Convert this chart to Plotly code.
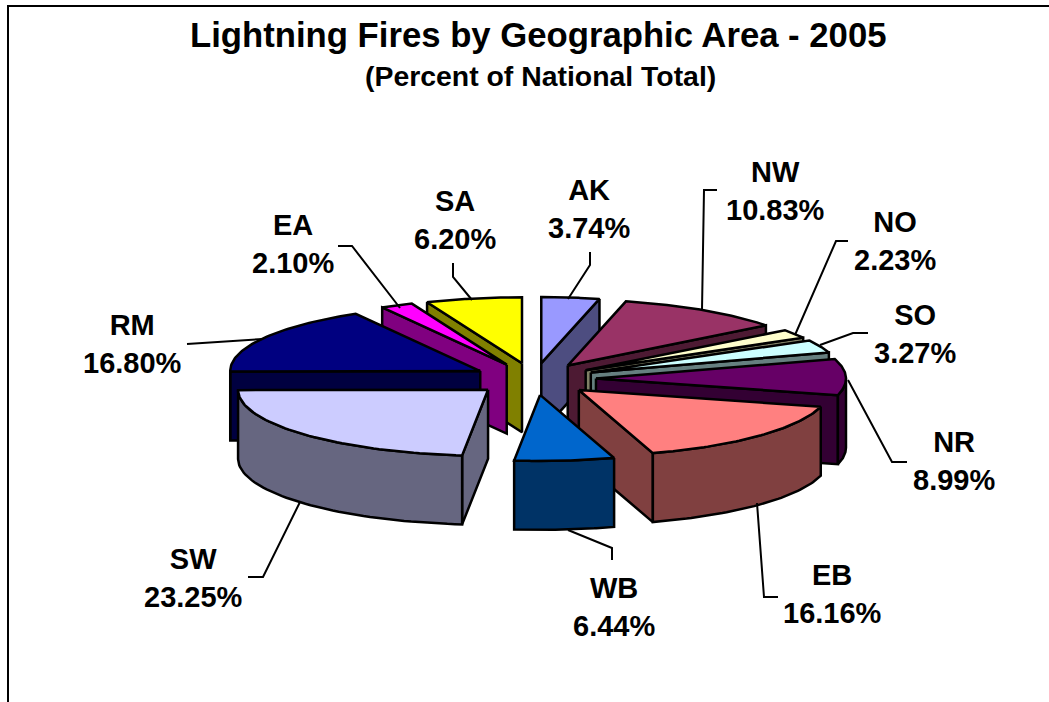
import numpy as np
import plotly.graph_objects as go

# ---- data ----
areas = ["AK", "NW", "NO", "SO", "NR", "EB", "WB", "SW", "RM", "EA", "SA"]
percents = [3.74, 10.83, 2.23, 3.27, 8.99, 16.16, 6.44, 23.25, 16.80, 2.10, 6.20]
top_colors = ["#9999FF", "#993366", "#FFFFCC", "#CCFFFF", "#660066", "#FF8080",
              "#0066CC", "#CCCCFF", "#000080", "#FF00FF", "#FFFF00"]
side_colors = ["#4D4D80", "#4D1A33", "#808066", "#668080", "#330033", "#804040",
               "#003366", "#666680", "#000040", "#800080", "#808000"]

title_text = "Lightning Fires by Geographic Area - 2005"
subtitle_text = "(Percent of National Total)"

# ---- pseudo-3D projection of the pie ----
CX, CY = 534, 379
RX, RY = 250, 66
DEPTH = 69
EX, EY = 62, 16
W, H = 1049, 702

label_pos = {"AK": (589, 209), "NW": (775, 191), "NO": (895, 241), "SO": (915, 334),
             "NR": (954, 461), "EB": (832, 594), "WB": (614, 607), "SW": (193, 578),
             "RM": (132, 344), "EA": (293, 244), "SA": (455, 220)}
leaders = [
    [(590, 252), (590, 265), (568, 299)],
    [(717, 190), (704, 190), (702, 310)],
    [(848, 241), (836, 241), (795, 335)],
    [(868, 333), (853, 333), (820, 345)],
    [(907, 462), (892, 462), (848, 380)],
    [(778, 597), (764, 597), (757, 503)],
    [(612, 560), (612, 548), (568, 530)],
    [(248, 577), (263, 577), (300, 502)],
    [(187, 344), (263, 339)],
    [(338, 246), (352, 246), (400, 308)],
    [(453, 263), (453, 277), (472, 300)],
]


def rim(ax, ay, theta, dy=0.0):
    return ax + RX * np.sin(theta), ay - RY * np.cos(theta) + dy


def poly(fig, xs, ys, color):
    fig.add_trace(go.Scatter(x=list(xs) + [xs[0]], y=list(ys) + [ys[0]], mode="lines",
                             fill="toself", fillcolor=color,
                             line=dict(color="black", width=2.5), hoverinfo="skip",
                             showlegend=False))


fig = go.Figure()
total = sum(percents)
edges = np.cumsum([0] + percents) / total * 2 * np.pi
mids = (edges[:-1] + edges[1:]) / 2

for i in sorted(range(len(areas)), key=lambda k: -np.cos(mids[k])):
    t1, t2 = edges[i], edges[i + 1]
    ax = CX + EX * np.sin(mids[i])
    ay = CY - EY * np.cos(mids[i])
    mx, my = rim(ax, ay, mids[i])
    # radial cut faces that turn toward the viewer
    for t in (t1, t2):
        px, py = rim(ax, ay, t)
        nx, ny = -(py - ay), px - ax
        if nx * (mx - ax) + ny * (my - ay) > 0:
            nx, ny = -nx, -ny
        if ny > 1e-6:
            poly(fig, [ax, px, px, ax], [ay, py, py + DEPTH, ay + DEPTH], side_colors[i])
    # outer rim wall on the front half
    lo, hi = max(t1, np.pi / 2), min(t2, 1.5 * np.pi)
    if hi > lo:
        th = np.linspace(lo, hi, 50)
        x, y = rim(ax, ay, th)
        poly(fig, list(x) + list(x[::-1]), list(y) + list((y + DEPTH)[::-1]), side_colors[i])
    # top face
    th = np.linspace(t1, t2, 60)
    x, y = rim(ax, ay, th)
    poly(fig, [ax] + list(x), [ay] + list(y), top_colors[i])

shapes = [dict(type="path", path="M 8 702 L 8 6 L 1049 6", xref="x", yref="y",
               line=dict(color="black", width=2))]
for pts in leaders:
    path = "M " + " L ".join(f"{a} {b}" for a, b in pts)
    shapes.append(dict(type="path", path=path, xref="x", yref="y",
                       line=dict(color="black", width=2)))

FONT = "Liberation Sans, Arial, sans-serif"
annotations = [
    dict(x=538, y=35, text=f"<b>{title_text}</b>", showarrow=False,
         font=dict(family=FONT, size=34.7, color="black")),
    dict(x=540, y=76, text=f"<b>{subtitle_text}</b>", showarrow=False,
         font=dict(family=FONT, size=28.4, color="black")),
]
for name, val in zip(areas, percents):
    lx, ly = label_pos[name]
    annotations.append(dict(x=lx, y=ly, text=f"<b>{name}<br>{val:.2f}%</b>", showarrow=False,
                            xanchor="center", yanchor="middle", align="center",
                            font=dict(family=FONT, size=29, color="black")))

fig.update_layout(
    width=W, height=H, margin=dict(l=0, r=0, t=0, b=0),
    paper_bgcolor="white", plot_bgcolor="white", showlegend=False,
    xaxis=dict(range=[0, W], visible=False, fixedrange=True),
    yaxis=dict(range=[H, 0], visible=False, fixedrange=True),
    shapes=shapes, annotations=annotations,
)
fig.write_html("out.html", config={"displayModeBar": False},
               post_script="document.body.style.margin='0';document.body.style.overflow='hidden';")
